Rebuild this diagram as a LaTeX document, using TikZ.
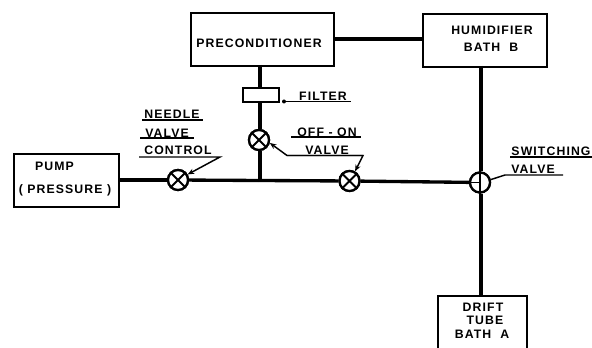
\documentclass[tikz,border=0pt]{standalone}
\usepackage{fontspec}
\setmainfont{Liberation Sans}[LetterSpace=9]
\usetikzlibrary{arrows.meta}
\tikzset{
  x=0.75pt,y=-0.75pt,
  pipe/.style={line width=2.5pt,black},
  boxn/.style={draw=black,line width=1.7pt,inner sep=0pt,fill=white},
  lab/.style={font=\bfseries\fontsize{9.2}{10}\selectfont,inner sep=0pt,anchor=center},
  ul/.style={line width=1.1pt,black},
  lead/.style={line width=1.1pt,black},
  leadarrow/.style={lead,-{Stealth[length=5pt,width=4pt]}},
  valvec/.style={circle,draw=black,line width=1.7pt,minimum size=15pt,inner sep=0pt,fill=white},
}
\newcommand{\boxat}[5]{\node[boxn,minimum width=#3*0.75pt,minimum height=#4*0.75pt,anchor=north west] (#5) at (#1,#2) {};}
\begin{document}
\begin{tikzpicture}
\useasboundingbox (0,0) rectangle (592,348);
% boxes
\boxat{13}{153}{105}{53}{pump}
\boxat{190}{12}{143}{53}{precond}
\boxat{422}{13}{124}{53}{humid}
\boxat{242}{87}{36}{14}{filter}
% valves
\node[valvec] (v1) at (178,180) {};
\node[valvec] (v2) at (259,140) {};
\node[valvec] (v3) at (349.5,181) {};
\node[valvec] (v4) at (480,182.5) {};
\coordinate (tee) at (259,180.5);
\coordinate (precondS) at (260,65);
\coordinate (drifttop) at (481,296);
\coordinate (humidS) at (481,66);
% pipes
\draw[pipe] (pump.east |- v1) -- (v1);
\draw[pipe] (v1) -- (tee);
\draw[pipe] (tee) -- (v3);
\draw[pipe] (v3) -- (v4);
\draw[pipe] (precondS) -- (precondS |- filter.north);
\draw[pipe] (precondS |- filter.south) -- (precondS |- v2.north);
\draw[pipe] (precondS |- v2.south) -- (precondS |- tee);
\draw[pipe] (precond.east |- 0,39) -- (humid.west |- 0,39);
\draw[pipe] (humidS) -- (v4.north -| humidS);
\draw[pipe] (v4.south -| humidS) -- (drifttop);
% redraw valve symbols
\node[valvec] at (v1) {};\node[valvec] at (v2) {};\node[valvec] at (v3) {};\node[valvec] (v4b) at (v4) {};
\foreach \v in {v1,v2,v3}{
  \draw[line width=1.4pt] (\v.45) -- (\v.225) (\v.135) -- (\v.315);
}
\draw[line width=1.4pt] (v4b.north) -- (v4b.south) (v4b.west) -- (v4b.center);
% drift box (runs off the lower edge)
\coordinate (d1) at (438,296);
\coordinate (d2) at (527,296);
\coordinate (d3) at (438,348);
\coordinate (d4) at (527,348);
\draw[line width=1.7pt] (d3) -- (d1) -- (d2) -- (d4);
% box texts
\node[lab] (tpump) at (54.5,166) {PUMP};
\node[lab] (tpress) at (65,190) {( PRESSURE )};
\node[lab] (tprec) at (259,43) {PRECONDITIONER};
\node[lab] (thum) at (492,30) {HUMIDIFIER};
\node[lab] (tbath) at (491,47) {BATH\ \ B};
\node[lab] (tdrift) at (483,307) {DRIFT};
\node[lab] (ttube) at (485,320) {TUBE};
\node[lab] (tbatha) at (482,334) {BATH\ \ A};
% labels
\node[lab] (tneedle) at (172,114) {NEEDLE};
\node[lab] (tvalve) at (167,133) {VALVE};
\node[lab] (tcontrol) at (178,150) {CONTROL};
\node[lab] (tfilter) at (323,96) {FILTER};
\node[lab] (toff) at (327,132) {OFF - ON};
\node[lab] (tvalve2) at (327,150) {VALVE};
\node[lab] (tswitch) at (551,151) {SWITCHING};
\node[lab] (tvalve3) at (533,169) {VALVE};
% underlines
\coordinate (u1a) at (142,120); \coordinate (u1b) at (203,120);
\coordinate (u2a) at (140,138); \coordinate (u2b) at (194,138);
\coordinate (u3a) at (139,157); \coordinate (u3b) at (220,157);
\coordinate (u4a) at (284,101.5); \coordinate (u4b) at (351,101.5);
\coordinate (u5a) at (291,137); \coordinate (u5b) at (361,137);
\coordinate (u6a) at (287,155.5); \coordinate (u6b) at (363,155.5);
\coordinate (u7a) at (510,157); \coordinate (u7b) at (592,157);
\coordinate (u8a) at (505,175); \coordinate (u8b) at (563,175);
\draw[ul] (u1a) -- (u1b);
\draw[ul] (u2a) -- (u2b);
\draw[ul] (u5a) -- (u5b);
\draw[ul] (u7a) -- (u7b);
\draw[ul] (u4a) -- (u4b);
\fill (u4a) circle (1.5pt);
% leaders
\draw[leadarrow] (u3a) -- (u3b) -- (v1.30);
\draw[leadarrow] (u6b) -- (u6a) -- (v2.-15);
\draw[leadarrow] (u6a) -- (u6b) -- (v3.60);
\draw[lead] (u8b) -- (u8a) -- (v4b.15);
\end{tikzpicture}
\end{document}
